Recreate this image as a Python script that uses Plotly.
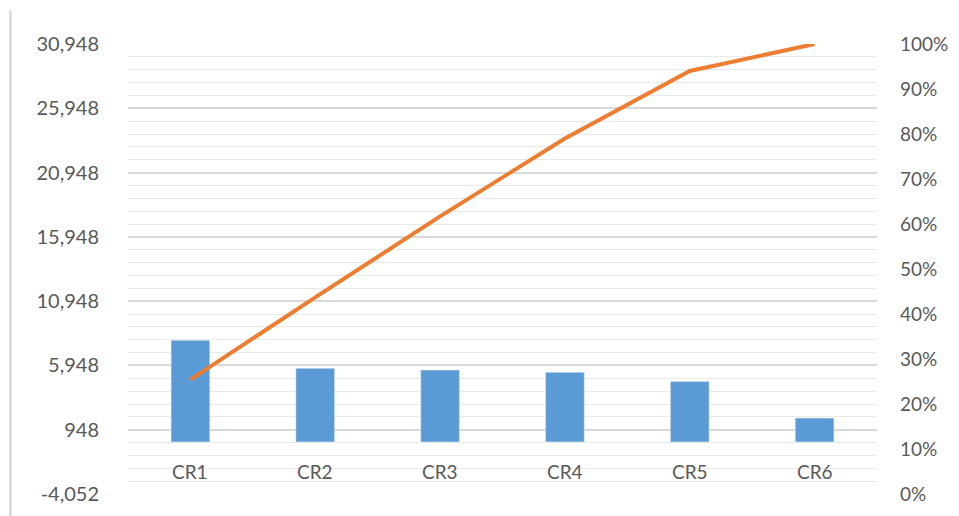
import plotly.graph_objects as go

categories = ["CR1", "CR2", "CR3", "CR4", "CR5", "CR6"]
counts = [7900, 5720, 5590, 5410, 4690, 1850]
cum_pct = [0.254, 0.437, 0.617, 0.790, 0.940, 1.0]
left_tickvals = [-4052, 948, 5948, 10948, 15948, 20948, 25948, 30948]
left_ticktext = ["-4,052", "948", "5,948", "10,948", "15,948", "20,948", "25,948", "30,948"]

FONT = "Lato"
GRAY = "#595959"

fig = go.Figure()
fig.add_trace(go.Bar(x=categories, y=counts, marker_color="#5B9BD5", width=0.31,
                     yaxis="y", showlegend=False))
fig.add_trace(go.Scatter(x=categories, y=cum_pct, mode="lines",
                         line=dict(color="#ED7D31", width=4), yaxis="y2", showlegend=False))

for c in categories:
    fig.add_annotation(x=c, y=0, xref="x", yref="y", text=c, showarrow=False,
                       yanchor="top", yshift=-16, font=dict(family=FONT, size=19, color=GRAY))

fig.update_layout(
    width=959, height=516,
    margin=dict(l=128, r=82, t=44, b=22),
    paper_bgcolor="white", plot_bgcolor="white",
    bargap=0.69,
    xaxis=dict(showticklabels=False, showgrid=False, zeroline=False, showline=False,
               range=[-0.5, 5.5]),
    yaxis=dict(range=[-4052, 30948], tickmode="array", tickvals=left_tickvals,
               ticktext=left_ticktext, showgrid=True, gridcolor="#d9d9d9", gridwidth=1.5,
               zeroline=False, showline=False, ticks="", ticklabelstandoff=28,
               tickfont=dict(family=FONT, size=20, color=GRAY),
               minor=dict(tick0=-4052, dtick=1000, showgrid=True, gridcolor="#e9e9e9", gridwidth=1)),
    yaxis2=dict(range=[0, 1], overlaying="y", side="right", tickformat=".0%", dtick=0.1,
                showgrid=False, zeroline=False, showline=False, ticks="", ticklabelstandoff=22,
                tickfont=dict(family=FONT, size=19, color=GRAY)),
    shapes=[dict(type="line", xref="paper", yref="paper", x0=-0.157, x1=-0.157,
                 y0=-0.05, y1=1.075, line=dict(color="#d0d0d0", width=2))],
)

fig.write_html("out.html")
